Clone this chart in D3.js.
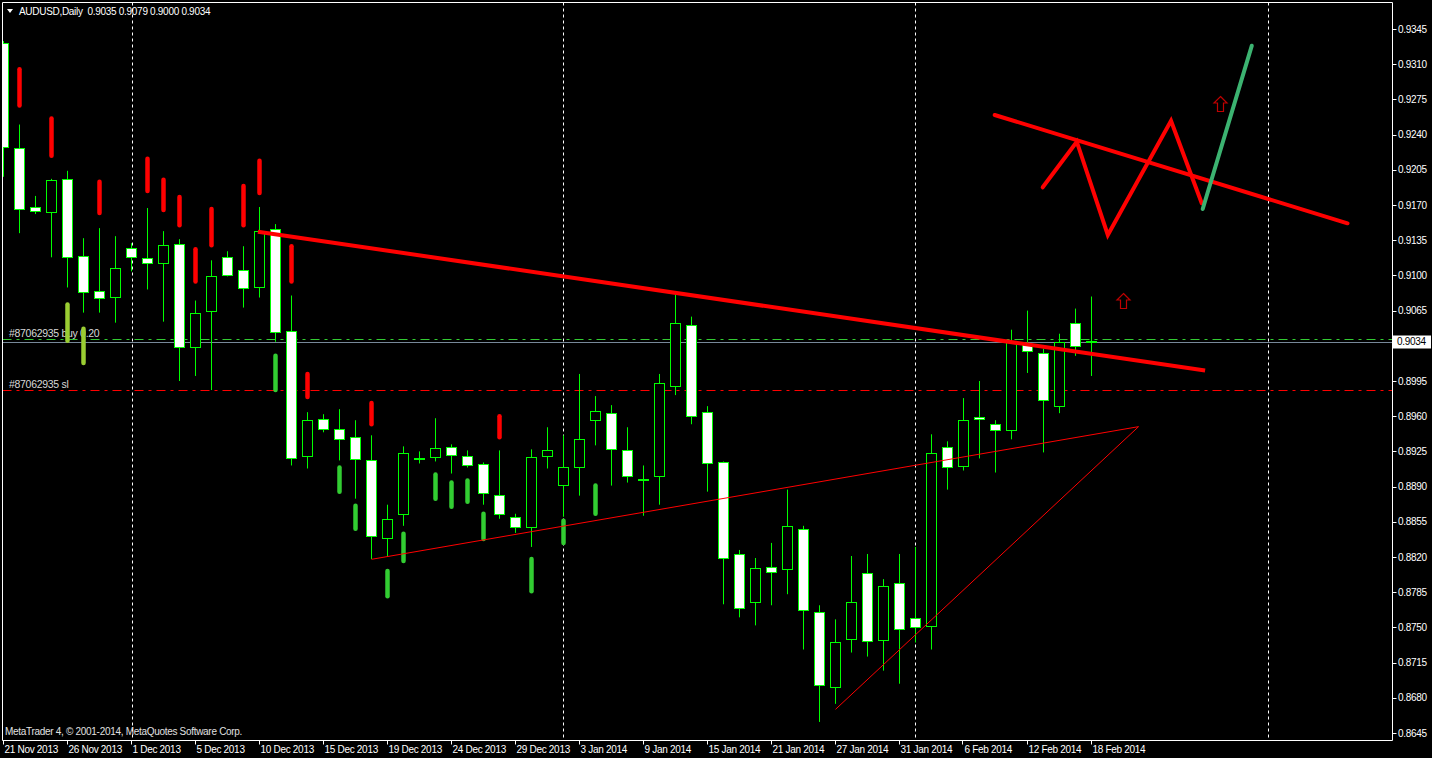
<!DOCTYPE html>
<html><head><meta charset="utf-8">
<script src="https://cdn.jsdelivr.net/npm/d3@7"></script>
<style>html,body{margin:0;padding:0;background:#000;overflow:hidden}text{font-family:"Liberation Sans",Arial,sans-serif;letter-spacing:-0.3px}</style>
</head><body><svg id="c" width="1432" height="758"></svg>
<script>
// ---------- DATA ----------
const symbolTitle = "AUDUSD,Daily";
const titleOHLC = ["0.9035", "0.9079", "0.9000", "0.9034"];
const copyright = "MetaTrader 4, \u00A9 2001-2014, MetaQuotes Software Corp.";

const opens = [0.9331,0.9227,0.9168,0.9163,0.9196,0.9119,0.9084,0.9078,0.9127,0.9117,
0.9112,0.9131,0.9029,0.9064,0.9118,0.9105,0.9088,0.9146,0.9045,0.8920,
0.8957,0.8947,0.8939,0.8916,0.8839,0.8862,0.8918,0.8919,0.8929,0.8920,
0.8912,0.8882,0.8860,0.8849,0.8920,0.8891,0.8909,0.8956,0.8963,0.8926,
0.8898,0.8901,0.8990,0.9051,0.8964,0.8914,0.8823,0.8775,0.8810,0.8808,
0.8848,0.8765,0.8690,0.8738,0.8804,0.8737,0.8794,0.8759,0.8751,0.8929,
0.8910,0.8959,0.8952,0.8947,0.9032,0.9023,0.8970,0.9053,0.9035];
const highs = [0.9333,0.9250,0.9179,0.9196,0.9204,0.9137,0.9147,0.9139,0.9132,0.9167,
0.9144,0.9136,0.9075,0.9115,0.9124,0.9129,0.9168,0.9151,0.9080,0.8964,
0.8962,0.8967,0.8956,0.8941,0.8872,0.8930,0.8925,0.8958,0.8932,0.8926,
0.8914,0.8926,0.8863,0.8927,0.8949,0.8941,0.9002,0.8980,0.8971,0.8949,
0.8911,0.9002,0.9081,0.9059,0.8970,0.8915,0.8827,0.8819,0.8834,0.8887,
0.8851,0.8772,0.8758,0.8821,0.8823,0.8798,0.8823,0.8830,0.8942,0.8935,
0.8978,0.8995,0.8956,0.9046,0.9065,0.9027,0.9042,0.9067,0.9079];
const lows = [0.9198,0.9142,0.9161,0.9118,0.9088,0.9063,0.9063,0.9053,0.9104,0.9086,
0.9054,0.8995,0.9000,0.8986,0.9099,0.9068,0.9078,0.9034,0.8911,0.8908,
0.8944,0.8916,0.8878,0.8818,0.8820,0.8851,0.8913,0.8915,0.8903,0.8909,
0.8872,0.8858,0.8844,0.8830,0.8908,0.8860,0.8881,0.8931,0.8891,0.8894,
0.8861,0.8872,0.8981,0.8952,0.8885,0.8773,0.8760,0.8752,0.8772,0.8783,
0.8728,0.8656,0.8674,0.8725,0.8721,0.8707,0.8694,0.8735,0.8728,0.8887,
0.8906,0.8918,0.8904,0.8937,0.9003,0.8924,0.8963,0.9020,0.9000];
const closes = [0.9228,0.9166,0.9164,0.9195,0.9118,0.9083,0.9077,0.9107,0.9118,0.9112,
0.9130,0.9029,0.9063,0.9099,0.9100,0.9087,0.9144,0.9044,0.8919,0.8956,
0.8947,0.8937,0.8917,0.8840,0.8858,0.8923,0.8918,0.8928,0.8921,0.8911,
0.8883,0.8863,0.8850,0.8919,0.8926,0.8909,0.8937,0.8965,0.8927,0.8900,
0.8898,0.8993,0.9053,0.8961,0.8913,0.8819,0.8769,0.8809,0.8805,0.8851,
0.8767,0.8692,0.8735,0.8775,0.8736,0.8791,0.8748,0.8750,0.8923,0.8909,
0.8956,0.8957,0.8946,0.9035,0.9025,0.8976,0.9034,0.9030,0.9034];

// indicator histogram segments (bar index, upper, lower, colour key)
const indIndex = [1,3,4,5,6,9,10,11,12,13,15,16,17,18,19,21,22,23,24,25,27,28,29,30,31,33,35,37];
const indUpper = [0.9307,0.9258,0.9073,0.9049,0.9195,0.9218,0.9197,0.9180,0.9128,0.9168,0.9191,0.9216,0.9022,0.9131,0.9004,0.8911,0.8873,0.8975,0.8808,0.8845,0.8904,0.8896,0.8898,0.8865,0.8962,0.8820,0.8858,0.8893];
const indLower = [0.9267,0.9217,0.9033,0.9011,0.9160,0.9182,0.9163,0.9148,0.9092,0.9128,0.9148,0.9180,0.8984,0.9092,0.8977,0.8883,0.8846,0.8950,0.8779,0.8814,0.8876,0.8868,0.8873,0.8836,0.8937,0.8784,0.8832,0.8861];
const indKind  = ["r","r","y","y","r","r","r","r","r","r","r","r","g","r","r","g","g","r","g","g","g","g","g","g","r","g","g","g"];

const dateLabels = ["21 Nov 2013","26 Nov 2013","1 Dec 2013","5 Dec 2013","10 Dec 2013","15 Dec 2013",
"19 Dec 2013","24 Dec 2013","29 Dec 2013","3 Jan 2014","9 Jan 2014","15 Jan 2014","21 Jan 2014",
"27 Jan 2014","31 Jan 2014","6 Feb 2014","12 Feb 2014","18 Feb 2014"];
const dateLabelStep = 4;
const priceTicks = [0.9345,0.9310,0.9275,0.9240,0.9205,0.9170,0.9135,0.9100,0.9065,0.9030,0.8995,
0.8960,0.8925,0.8890,0.8855,0.8820,0.8785,0.8750,0.8715,0.8680,0.8645];
const separators = [8, 35, 57, 79];

const bidPrice = 0.9034;
const buyPrice = 0.90365, buyLabel = "#87062935 buy 0.20";
const slPrice = 0.8986, slLabel = "#87062935 sl";

const trendThick = [[15.9,0.91435],[75.1,0.90054]];
const trendThinA = [[23.0,0.88177],[70.94,0.89496]];
const trendThinB = [[52.0,0.86685],[70.94,0.89496]];
const zigzag = [[64.95,0.91876],[67.08,0.92329],[69.02,0.91402],[72.97,0.92538],[74.89,0.91717]];
const greenLeg = [[74.95,0.91660],[78.02,0.93284]];
const upperLine = [[61.95,0.92595],[84.0,0.91518]];
const arrowsUp = [[70,0.90828],[76,0.92784]];

// ---------- SCALES ----------
const svg = d3.select("#c");
const L = 2.5, T = 2.5, R = 1392.5, B = 740.5;
const x = d3.scaleLinear().domain([0, 100]).range([3.5, 3.5 + 1600]);
const y = d3.scaleLinear().domain([0.8645, 0.9345]).range([733, 29]);

svg.append("rect").attr("width",1432).attr("height",758).attr("fill","#000");
svg.append("defs").append("clipPath").attr("id","plot")
  .append("rect").attr("x",3).attr("y",3).attr("width",R-3.5).attr("height",B-3.5);
const g = svg.append("g").attr("clip-path","url(#plot)");

// order labels (behind bars)
g.append("text").attr("x",9).attr("y",y(buyPrice)-2.5).attr("fill","#d8d8d8").attr("font-size",10.5).text(buyLabel);
g.append("text").attr("x",9).attr("y",y(slPrice)-2.5).attr("fill","#d8d8d8").attr("font-size",10.5).text(slLabel);

// separators
g.selectAll("line.sep").data(separators).join("line")
  .attr("x1",d=>Math.round(x(d))+0.5).attr("x2",d=>Math.round(x(d))+0.5)
  .attr("y1",T).attr("y2",B).attr("stroke","#fff").attr("stroke-dasharray","3,3");

// order lines
const hl = (p, col, dash) => g.append("line").attr("x1",L).attr("x2",R)
  .attr("y1",Math.round(y(p))+0.5).attr("y2",Math.round(y(p))+0.5)
  .attr("stroke",col).attr("stroke-dasharray",dash);
hl(buyPrice,"#32CD32","9,5,3,5");
hl(slPrice,"#FF0000","9,5,3,5");
hl(bidPrice,"#778899",null);

// candles
const idx = d3.range(opens.length);
g.selectAll("line.wick").data(idx).join("line")
  .attr("x1",i=>x(i)).attr("x2",i=>x(i))
  .attr("y1",i=>y(highs[i])).attr("y2",i=>y(lows[i]))
  .attr("stroke","#00FF00").attr("stroke-width",1);
g.selectAll("rect.body").data(idx).join("rect")
  .attr("x",i=>x(i)-5).attr("width",10)
  .attr("y",i=>Math.round(y(Math.max(opens[i],closes[i])))+0.5)
  .attr("height",i=>Math.max(1,Math.round(Math.abs(y(opens[i])-y(closes[i])))))
  .attr("fill",i=>closes[i]>=opens[i]?"#000":"#fff")
  .attr("stroke","#00FF00").attr("stroke-width",1);

// indicator histogram
const indColor = {r:"#FF0000", g:"#32CD32", y:"#9ACD32"};
g.selectAll("line.ind").data(indIndex.map((d,k)=>k)).join("line")
  .attr("x1",k=>x(indIndex[k])).attr("x2",k=>x(indIndex[k]))
  .attr("y1",k=>y(indUpper[k])+2).attr("y2",k=>y(indLower[k])-2)
  .attr("stroke",k=>indColor[indKind[k]]).attr("stroke-width",4.5).attr("stroke-linecap","round");

// trend lines / drawings
const ln = d3.line().x(d=>x(d[0])).y(d=>y(d[1]));
g.append("path").attr("d",ln(trendThinA)).attr("fill","none").attr("stroke","#FF0000").attr("stroke-width",1);
g.append("path").attr("d",ln(trendThinB)).attr("fill","none").attr("stroke","#FF0000").attr("stroke-width",1);
g.append("path").attr("d",ln(trendThick)).attr("fill","none").attr("stroke","#FF0000").attr("stroke-width",4);
g.append("path").attr("d",ln(upperLine)).attr("fill","none").attr("stroke","#FF0000").attr("stroke-width",4).attr("stroke-linecap","round");
g.append("path").attr("d",ln(zigzag)).attr("fill","none").attr("stroke","#FF0000").attr("stroke-width",4).attr("stroke-linecap","round").attr("stroke-linejoin","miter");
g.append("path").attr("d",ln(greenLeg)).attr("fill","none").attr("stroke","#3CB371").attr("stroke-width",4).attr("stroke-linecap","round");

// arrows
const arrowPath = "M0,0 L6.5,6.5 L3,6.5 L3,15 L-3,15 L-3,6.5 L-6.5,6.5 Z";
g.selectAll("path.arr").data(arrowsUp).join("path")
  .attr("transform",d=>`translate(${Math.round(x(d[0]))+0.5},${Math.round(y(d[1]))+0.5})`)
  .attr("d",arrowPath).attr("fill","none").attr("stroke","#C00000").attr("stroke-width",1.2);

// copyright
g.append("text").attr("x",5).attr("y",735).attr("fill","#e0e0e0").attr("font-size",10).text(copyright);

// frame
svg.append("path").attr("d",`M${L},${B} L${L},${T} L${R},${T} L${R},${B} Z`).attr("fill","none").attr("stroke","#fff").attr("stroke-width",1);

// price axis (label hidden by the current-price box is not drawn)
const ya = svg.append("g");
ya.selectAll("line").data(priceTicks).join("line")
  .attr("x1",R).attr("x2",R+4).attr("y1",d=>Math.round(y(d))+0.5).attr("y2",d=>Math.round(y(d))+0.5).attr("stroke","#fff");
ya.selectAll("text").data(priceTicks.filter(d=>Math.abs(y(d)-y(bidPrice))>10)).join("text")
  .attr("x",1398).attr("y",d=>y(d)+3.5).attr("fill","#fff").attr("font-size",10)
  .text(d=>d3.format(".4f")(d));
// current price box
svg.append("rect").attr("x",1393).attr("y",Math.round(y(bidPrice))-6.5).attr("width",38).attr("height",13).attr("fill","#fff");
svg.append("text").attr("x",1397).attr("y",y(bidPrice)+3.5).attr("fill","#000").attr("font-size",10).text(d3.format(".4f")(bidPrice));

// time axis
const xa = svg.append("g");
xa.selectAll("line").data(dateLabels).join("line")
  .attr("x1",(d,k)=>Math.round(x(k*dateLabelStep))-0.5).attr("x2",(d,k)=>Math.round(x(k*dateLabelStep))-0.5)
  .attr("y1",B).attr("y2",B+4).attr("stroke","#fff");
xa.selectAll("text").data(dateLabels).join("text")
  .attr("x",(d,k)=>x(k*dateLabelStep)+1).attr("y",753).attr("fill","#fff").attr("font-size",10).text(d=>d);

// title
svg.append("path").attr("d","M7,9 L13,9 L10,13 Z").attr("fill","#fff");
svg.append("text").attr("x",19).attr("y",14.5).attr("fill","#fff").attr("font-size",10)
  .text(symbolTitle + "  " + titleOHLC.join(" ")).attr("xml:space","preserve").style("white-space","pre");
</script></body></html>
